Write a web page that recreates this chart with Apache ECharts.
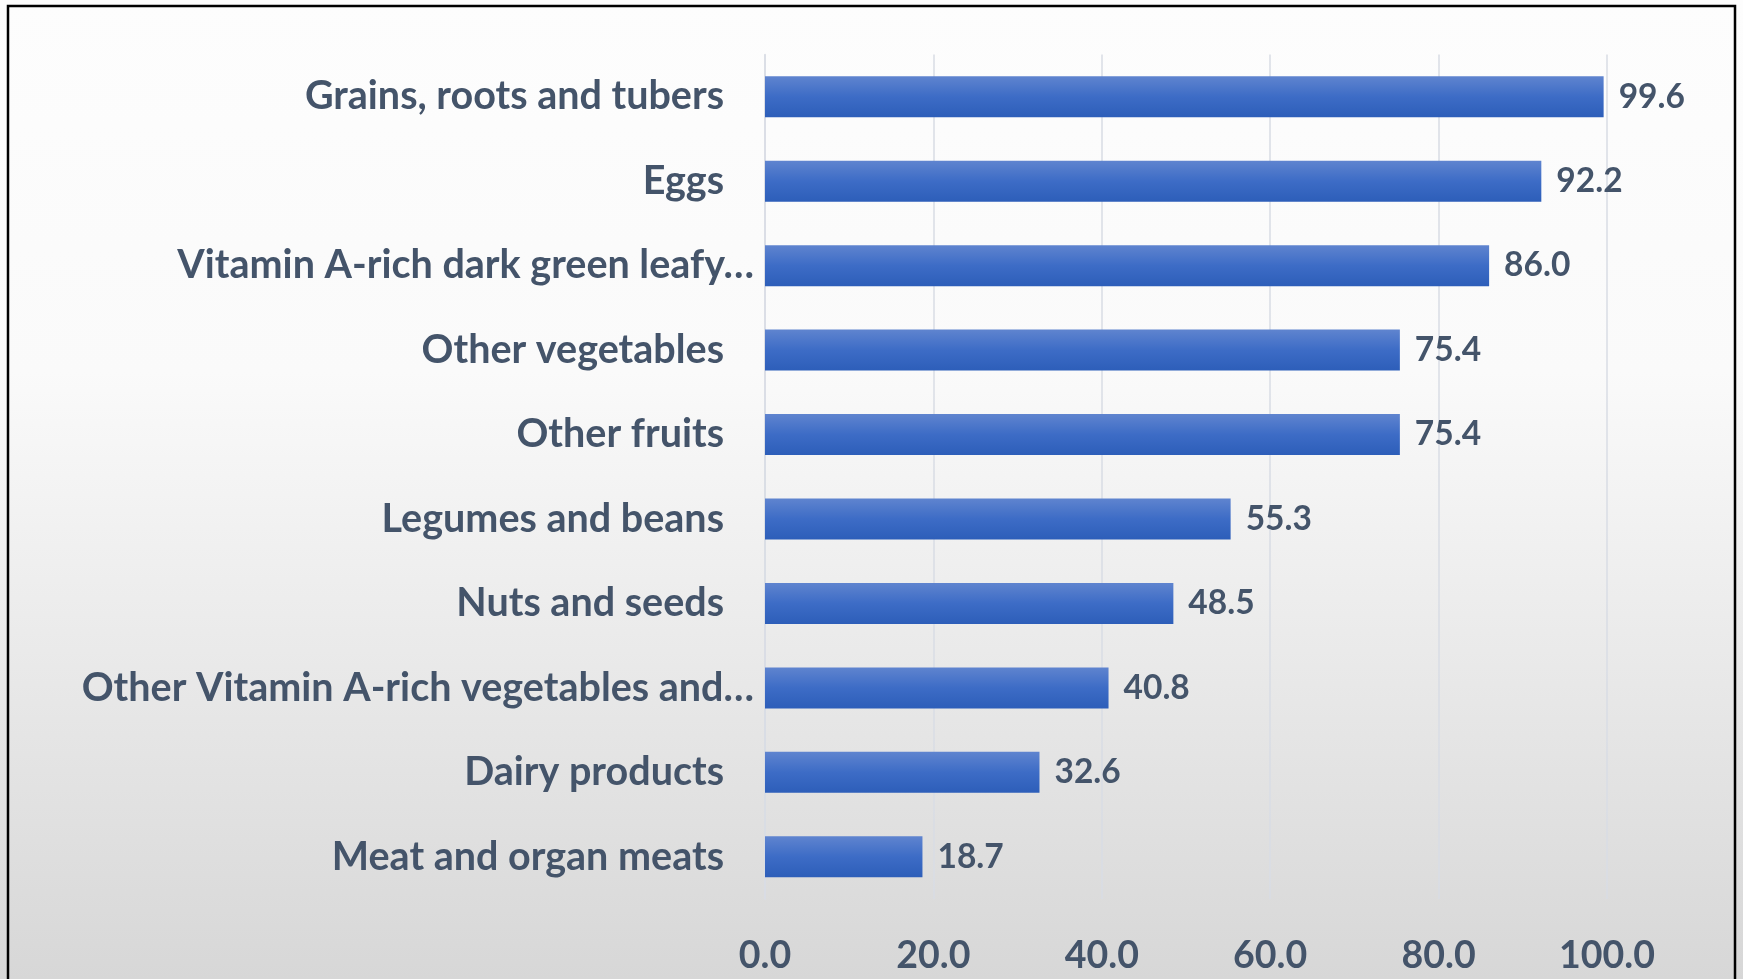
<!DOCTYPE html>
<html>
<head>
<meta charset="utf-8">
<script src="https://cdn.jsdelivr.net/npm/echarts@6/dist/echarts.min.js"></script>
<style>
html,body{margin:0;padding:0;width:1743px;height:979px;overflow:hidden;}
#chart{width:1743px;height:979px;}
</style>
</head>
<body>
<div id="chart"></div>
<script>
const categories = [
  "Grains, roots and tubers",
  "Eggs",
  "Vitamin A-rich dark green leafy…",
  "Other vegetables",
  "Other fruits",
  "Legumes and beans",
  "Nuts and seeds",
  "Other Vitamin A-rich vegetables and…",
  "Dairy products",
  "Meat and organ meats"
];
const values = [99.6, 92.2, 86.0, 75.4, 75.4, 55.3, 48.5, 40.8, 32.6, 18.7];
const truncated = ["Vitamin A-rich dark green leafy…", "Other Vitamin A-rich vegetables and…"];

const FONT = "Lato, 'Open Sans', sans-serif";
const TXT = '#44546a';

const chart = echarts.init(document.getElementById('chart'));
chart.setOption({
  animation: false,
  backgroundColor: {
    type: 'linear', x: 0, y: 0, x2: 0, y2: 1,
    colorStops: [
      {offset: 0, color: '#fdfdfd'},
      {offset: 0.38, color: '#fafafa'},
      {offset: 1, color: '#d7d7d7'}
    ]
  },
  graphic: [{
    type: 'rect',
    shape: {x: 8, y: 6, width: 1727, height: 1000},
    style: {fill: 'none', stroke: '#000', lineWidth: 2.5},
    silent: true
  }],
  grid: {left: 765, right: 136, top: 54.5, bottom: 80, containLabel: false},
  xAxis: {
    type: 'value', min: 0, max: 100, interval: 20,
    axisLine: {show: false},
    axisTick: {show: false},
    splitLine: {show: true, lineStyle: {color: '#d9dde5', width: 1.5}},
    axisLabel: {
      margin: 38,
      color: TXT, fontFamily: FONT, fontWeight: 'bold', fontSize: 37.5,
      formatter: v => v.toFixed(1)
    }
  },
  yAxis: {
    type: 'category', data: categories, inverse: true,
    axisLine: {show: true, lineStyle: {color: '#d9dde5', width: 1.5}},
    axisTick: {show: false},
    axisLabel: {
      margin: 11,
      color: TXT, fontFamily: FONT, fontWeight: 'bold', fontSize: 39.5,
      formatter: v => truncated.includes(v) ? '{t|' + v + '}' : '{n|' + v + '}',
      rich: {
        n: {color: TXT, fontFamily: FONT, fontWeight: 'bold', fontSize: 39.5, padding: [0, 30, 0, 0]},
        t: {color: TXT, fontFamily: FONT, fontWeight: 'bold', fontSize: 39.5}
      }
    }
  },
  series: [{
    type: 'bar',
    data: values,
    barWidth: 41,
    itemStyle: {
      color: {
        type: 'linear', x: 0, y: 0, x2: 0, y2: 1,
        colorStops: [
          {offset: 0, color: '#5f84cf'},
          {offset: 0.5, color: '#3d6cc6'},
          {offset: 1, color: '#2d5eb9'}
        ]
      }
    },
    label: {
      show: true, position: 'right', distance: 15,
      color: TXT, fontFamily: FONT, fontWeight: 'bold', fontSize: 33.5,
      formatter: p => p.value.toFixed(1)
    }
  }]
});
</script>
</body>
</html>
